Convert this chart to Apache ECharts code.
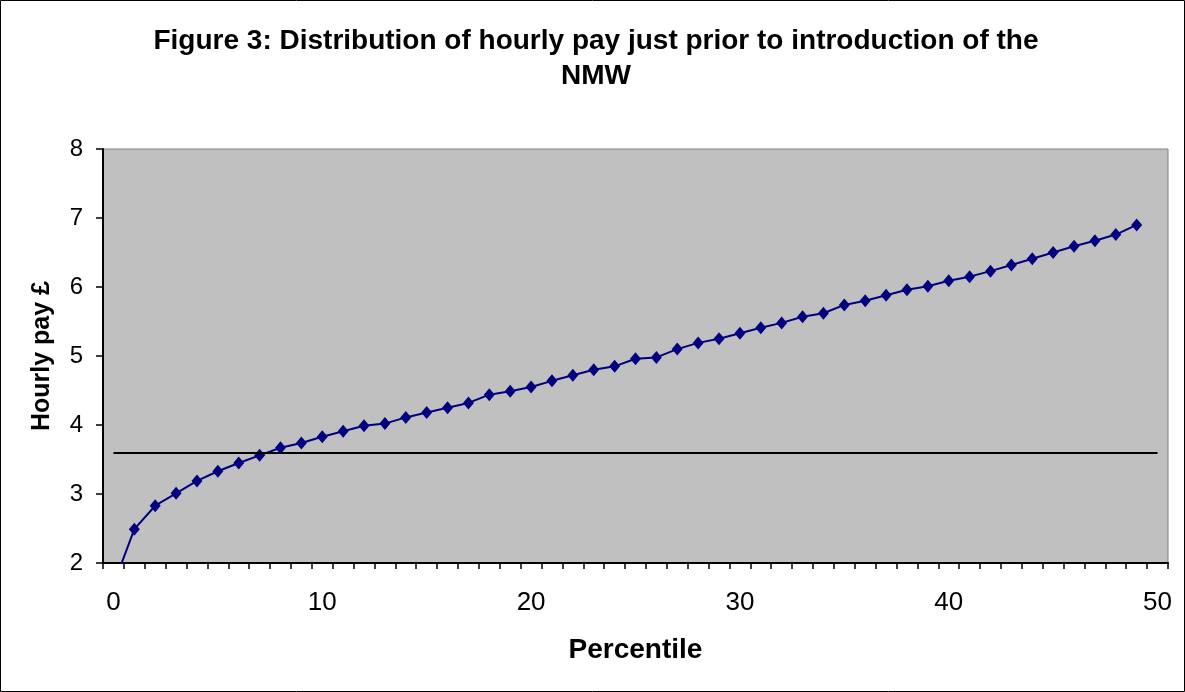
<!DOCTYPE html>
<html>
<head>
<meta charset="utf-8">
<script src="https://cdn.jsdelivr.net/npm/echarts@6/dist/echarts.min.js"></script>
<style>
html,body{margin:0;padding:0;background:#fff;}
#chart{width:1185px;height:692px;}
</style>
</head>
<body>
<div id="chart"></div>
<script>
// Percentile categories 0..50
var percentiles = ['0','1','2','3','4','5','6','7','8','9','10','11','12','13','14','15','16','17','18','19','20','21','22','23','24','25','26','27','28','29','30','31','32','33','34','35','36','37','38','39','40','41','42','43','44','45','46','47','48','49','50'];
// Hourly pay (£) at each percentile, 0..49
var hourlyPay = [1.68, 2.49, 2.83, 3.01, 3.19, 3.33, 3.45, 3.56, 3.67, 3.74,
                 3.83, 3.91, 3.99, 4.02, 4.11, 4.18, 4.25, 4.32, 4.44, 4.49,
                 4.55, 4.64, 4.72, 4.80, 4.85, 4.96, 4.98, 5.10, 5.19, 5.25,
                 5.33, 5.41, 5.48, 5.57, 5.62, 5.74, 5.80, 5.88, 5.96, 6.01,
                 6.09, 6.15, 6.23, 6.32, 6.41, 6.50, 6.59, 6.67, 6.76, 6.90];
// National Minimum Wage level (£)
var nmwRate = 3.6;
var yTicks = {min: 2, max: 8, interval: 1};

var chart = echarts.init(document.getElementById('chart'));
var FONT = "'Liberation Sans', Arial, sans-serif";
chart.setOption({
  animation: false,
  backgroundColor: '#ffffff',
  textStyle: {fontFamily: FONT},
  title: {
    text: 'Figure 3: Distribution of hourly pay just prior to introduction of the\nNMW',
    left: 591, top: 19, textAlign: 'center',
    textStyle: {fontFamily: FONT, fontSize: 28, fontWeight: 'bold', color: '#000', lineHeight: 35}
  },
  graphic: [{
    type: 'rect', silent: true, z: 100,
    shape: {x: 0.5, y: 0.5, width: 1184, height: 691},
    style: {fill: 'none', stroke: '#000', lineWidth: 1}
  }],
  grid: {
    left: 103, top: 149, right: 17, bottom: 129,
    show: true, backgroundColor: '#C0C0C0', borderColor: '#808080', borderWidth: 1
  },
  xAxis: {
    type: 'category', data: percentiles, boundaryGap: true,
    name: 'Percentile', nameLocation: 'middle', nameGap: 73,
    nameTextStyle: {fontFamily: FONT, fontSize: 28, fontWeight: 'bold', color: '#000'},
    axisLine: {lineStyle: {color: '#000', width: 2}},
    axisTick: {show: true, interval: 0, length: 6, lineStyle: {color: '#000', width: 1.5}},
    axisLabel: {interval: 9, margin: 27, fontFamily: FONT, fontSize: 26, color: '#000'},
    splitLine: {show: false}
  },
  yAxis: {
    type: 'value', min: yTicks.min, max: yTicks.max, interval: yTicks.interval,
    name: 'Hourly pay £', nameLocation: 'middle', nameGap: 48, nameRotate: 90,
    nameTextStyle: {fontFamily: FONT, fontSize: 25, fontWeight: 'bold', color: '#000'},
    axisLine: {show: true, lineStyle: {color: '#000', width: 2}},
    axisTick: {show: true, length: 7, lineStyle: {color: '#000', width: 1.5}},
    axisLabel: {margin: 20, fontFamily: FONT, fontSize: 24, color: '#000'},
    splitLine: {show: false}
  },
  series: [{
    type: 'line', data: hourlyPay, clip: true,
    symbol: 'diamond', symbolSize: [11, 13], showAllSymbol: true,
    itemStyle: {color: '#000080'},
    lineStyle: {color: '#000080', width: 2},
    markLine: {
      silent: true, symbol: ['none', 'none'], label: {show: false},
      lineStyle: {color: '#000', width: 2, type: 'solid'},
      data: [[{coord: [percentiles[0], nmwRate]}, {coord: [percentiles[percentiles.length - 1], nmwRate]}]]
    }
  }]
});
</script>
</body>
</html>
